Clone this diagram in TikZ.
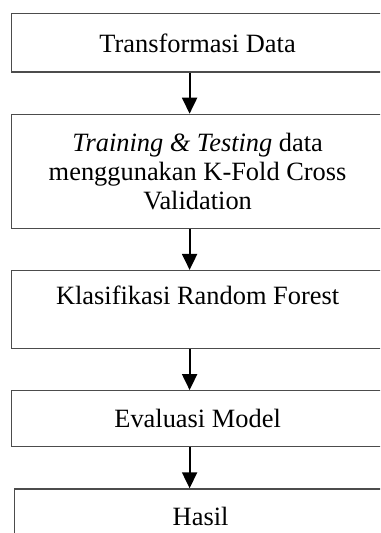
\documentclass[tikz,border=0pt]{standalone}
\usepackage{fontspec}
\setmainfont{Liberation Serif}
\usetikzlibrary{arrows.meta,positioning}

\begin{document}
\begin{tikzpicture}[x=0.5pt,y=-0.5pt,node distance=20.5pt,
    every node/.style={font=\fontsize{13.2pt}{14.5pt}\selectfont},
    box/.style={draw=black!70,line width=0.6pt,rectangle,minimum width=186pt,align=center,inner sep=0pt}]
        \useasboundingbox (0,0) rectangle (380,533);
        \clip (0,0) rectangle (380,533);
        \node[box,minimum height=29.25pt,anchor=north west] (p_1) at (11,13) {Transformasi Data};
        \node[box,minimum height=57pt] (p_2) [below=of p_1] {\textit{Training \& Testing} data\\menggunakan K-Fold Cross\\Validation};
        \node[box,minimum height=39pt,text depth=14pt] (p_3) [below=of p_2] {Klasifikasi Random Forest};
        \node[box,minimum height=28pt] (p_4) [below=of p_3] {Evaluasi Model};
        \node[box,minimum height=28pt] (p_5) [below=of p_4,xshift=1.5pt] {Hasil};
         \path[-{Triangle[width=7.5pt,length=8pt]},line width=1pt]
         ([xshift=-4pt]p_1.south) edge ([xshift=-4pt]p_2.north)
         ([xshift=-4pt]p_2.south) edge ([xshift=-4pt]p_3.north)
         ([xshift=-4pt]p_3.south) edge ([xshift=-4pt]p_4.north)
         ([xshift=-4pt]p_4.south) edge ([xshift=-5.5pt]p_5.north);
\end{tikzpicture}
\end{document}
